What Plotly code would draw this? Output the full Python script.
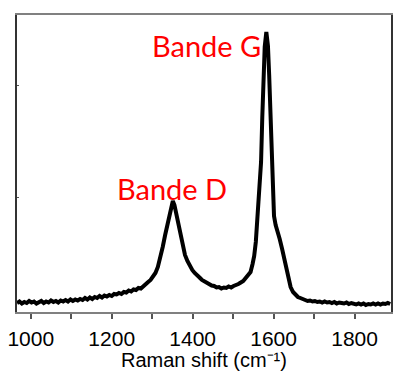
import plotly.graph_objects as go

raman_shift = [966, 972, 978, 984, 990, 996, 1002, 1008, 1014, 1020, 1026, 1032, 1038, 1044, 1050, 1056, 1062, 1068,
               1074, 1080, 1086, 1092, 1098, 1104, 1110, 1116, 1122, 1128, 1134, 1140, 1146, 1152, 1158, 1164, 1170,
               1176, 1182, 1188, 1194, 1200, 1206, 1212, 1218, 1224, 1230, 1236, 1242, 1248, 1254, 1260, 1266, 1272,
               1278, 1284, 1290, 1296, 1302, 1308, 1314, 1320, 1326, 1332, 1338, 1344, 1348, 1351, 1355, 1359, 1363,
               1369, 1375, 1381, 1387, 1393, 1399, 1405, 1411, 1417, 1423, 1429, 1435, 1441, 1447, 1453, 1459, 1465,
               1471, 1477, 1483, 1489, 1495, 1501, 1507, 1513, 1519, 1525, 1531, 1537, 1543, 1548, 1552, 1556, 1560,
               1563, 1566, 1569, 1572, 1575, 1578, 1582, 1586, 1589, 1592, 1595, 1598, 1601, 1605, 1610, 1615, 1621,
               1626, 1630, 1636, 1642, 1648, 1654, 1660, 1666, 1672, 1678, 1684, 1690, 1696, 1702, 1708, 1714, 1720,
               1726, 1732, 1738, 1744, 1750, 1756, 1762, 1768, 1774, 1780, 1786, 1792, 1798, 1804, 1810, 1816, 1822,
               1828, 1834, 1840, 1846, 1852, 1858, 1864, 1870, 1876, 1882, 1888]
intensity = [9, 10.5, 8.5, 10, 9, 11, 9.5, 10.5, 8.5, 10, 11, 9, 10.5, 9.5, 11.5, 10, 11, 9.5,
             11.5, 10.5, 12, 10.5, 12.5, 11, 12.5, 11.5, 13, 12, 14, 12.5, 14.5, 13, 15, 14, 16,
             14.5, 16.5, 15.5, 17, 16, 18, 17.5, 19, 18, 20, 19.5, 21.5, 20.5, 22.5, 22, 24, 23.5,
             26, 28, 30, 32, 35, 39, 45, 54, 65, 77, 89, 102, 108, 111, 107, 99, 89,
             76, 65, 57, 51, 46, 42, 39, 36, 34.5, 32, 30.5, 29, 28.5, 26.5, 26, 24.5, 25,
             23.5, 24.5, 24, 25.5, 24.5, 26, 26.5, 28, 29.5, 31, 34, 37, 40, 48, 56, 70, 92,
             105, 120, 150, 195, 235, 265, 280, 266, 237, 197, 156, 118, 96, 87, 81, 73, 63,
             54, 46, 35, 25, 20, 17, 15, 14, 12.5, 12, 11, 11.5, 10.5, 11, 10, 10.5, 9.5,
             10.5, 9.5, 10, 9, 10, 8.5, 9.5, 9, 8.5, 9.5, 8, 9, 8.5, 7.5, 8.5, 7.5, 8.5,
             7, 8, 7.5, 8.5, 7.5, 8.5, 7.5, 8.5, 8, 9, 8]

x_tickvals = [1000, 1200, 1400, 1600, 1800]
x_ticktext = ["1000", "1200", "1400", "1600", "1800"]
x_title = "Raman shift (cm\u207b\u00b9)"
band_labels = ["Bande D", "Bande G"]
band_label_x = [1349, 1435]
band_label_y = [124, 267]

fig = go.Figure()
fig.add_trace(go.Scatter(x=raman_shift, y=intensity, mode="lines",
                         line=dict(color="black", width=4), showlegend=False, hoverinfo="skip"))

for t, xx, yy in zip(band_labels, band_label_x, band_label_y):
    fig.add_annotation(x=xx, y=yy, text=t, showarrow=False, xanchor="center", yanchor="middle",
                       font=dict(family="Lato", size=29, color="#ff0000"))

fig.add_annotation(x=0.5, y=-0.162, xref="paper", yref="paper", text=x_title, showarrow=False,
                   xanchor="center", yanchor="middle",
                   font=dict(family="Liberation Sans", size=20, color="black"))

fig.update_layout(
    width=395, height=387,
    margin=dict(l=17, r=2, t=15, b=75),
    paper_bgcolor="white", plot_bgcolor="white",
    xaxis=dict(range=[966, 1890], tickvals=x_tickvals, ticktext=x_ticktext,
               ticks="outside", ticklen=5, tickwidth=1.5, tickcolor="#555555",
               minor=dict(dtick=100, tick0=1000, ticks="outside", ticklen=5, tickwidth=1.5, tickcolor="#555555"),
               showline=True, linecolor="#808080", linewidth=2, mirror=True,
               showgrid=False, zeroline=False, ticklabelstandoff=2,
               tickfont=dict(family="Liberation Sans", size=21, color="black")),
    yaxis=dict(range=[0, 297], tickvals=[115, 227], showticklabels=False,
               ticks="inside", ticklen=2, tickcolor="#555555",
               showline=True, linecolor="#333333", linewidth=2, mirror=True,
               showgrid=False, zeroline=False),
)

fig.write_html("out.html")
